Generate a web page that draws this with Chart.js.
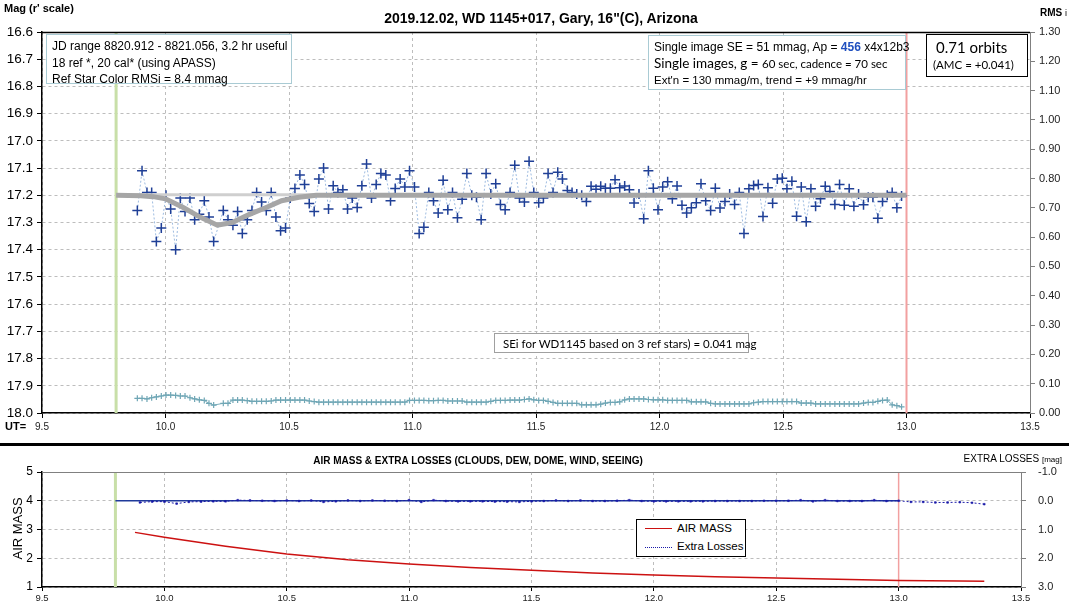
<!DOCTYPE html>
<html>
<head>
<meta charset="utf-8">
<script src="https://cdn.jsdelivr.net/npm/chart.js@4.4.1/dist/chart.umd.min.js"></script>
<style>
  body { margin: 0; background: #fff; width: 1069px; height: 611px; overflow: hidden; position: relative;
         font-family: "Liberation Sans", Arial, sans-serif; color: #000; }
  .abs { position: absolute; white-space: nowrap; line-height: 1; }
  #topWrap { position: absolute; left: 0; top: 0; width: 1069px; height: 445px; }
  #botWrap { position: absolute; left: 0; top: 445px; width: 1069px; height: 166px; }
  #sep { position: absolute; left: 0; top: 443px; width: 1069px; height: 3px; background: #000; }
  .box { position: absolute; background: #fff; box-sizing: border-box; }
  .cal { font-family: Lato, "Noto Sans", sans-serif; }
</style>
</head>
<body>
<div id="topWrap"><canvas id="magChart"></canvas></div>
<div id="botWrap"><canvas id="amChart"></canvas></div>
<div id="sep"></div>

<!-- top chart labels -->
<div class="abs" style="left:4px;top:3px;font-size:11px;font-weight:bold;">Mag (r' scale)</div>
<div class="abs" style="left:0;width:1082px;top:11px;text-align:center;font-size:14px;font-weight:bold;">2019.12.02, WD 1145+017, Gary, 16"(C), Arizona</div>
<div class="abs" style="left:1040px;top:8px;font-size:10px;font-weight:bold;">RMS <span style="font-weight:normal;font-size:9px;">i</span></div>
<div class="abs" style="left:5px;top:421px;font-size:11px;font-weight:bold;">UT=</div>

<div class="box" style="left:46px;top:34px;width:246px;height:50px;border:1px solid #a9cbd4;">
  <div class="abs" style="left:5px;top:5px;font-size:12px;">JD range 8820.912 - 8821.056, 3.2 hr useful</div>
  <div class="abs" style="left:5px;top:22px;font-size:12px;">18 ref *, 20 cal* (using APASS)</div>
  <div class="abs" style="left:5px;top:38px;font-size:12px;">Ref Star Color RMSi = 8.4 mmag</div>
</div>

<div class="box" style="left:648px;top:35px;width:258px;height:55px;border:1px solid #a9cbd4;">
  <div class="abs" style="left:5px;top:5px;font-size:12px;">Single image SE = 51 mmag, Ap = <b style="color:#1f4fbf;">456</b> x4x12b3</div>
  <div class="abs cal" style="left:5px;top:21px;font-size:13.5px;">Single images, g = <span style="font-size:11.5px;">60 sec, cadence = 70 sec</span></div>
  <div class="abs" style="left:5px;top:39px;font-size:11.5px;">Ext'n = 130 mmag/m, trend = +9 mmag/hr</div>
</div>

<div class="box" style="left:926px;top:34px;width:102px;height:43px;border:1px solid #000;">
  <div class="abs cal" style="left:9px;top:5px;font-size:15px;">0.71 orbits</div>
  <div class="abs cal" style="left:6px;top:24px;font-size:11.5px;">(AMC = +0.041)</div>
</div>

<div class="box" style="left:494px;top:333px;width:255px;height:20px;border:1px solid #a0a0a0;">
  <div class="abs cal" style="left:8px;top:4px;font-size:11.5px;">SEi for WD1145 based on 3 ref stars) = 0.041 mag</div>
</div>

<!-- bottom chart labels -->
<div class="abs" style="left:0;width:956px;top:456px;text-align:center;font-size:10px;font-weight:bold;">AIR MASS &amp; EXTRA LOSSES (CLOUDS, DEW, DOME, WIND, SEEING)</div>
<div class="abs" style="right:7px;top:454px;font-size:10px;">EXTRA LOSSES <span style="font-size:8px;">[mag]</span></div>
<div class="abs" style="left:-13px;top:523px;width:60px;text-align:center;font-size:13px;transform:rotate(-90deg);">AIR MASS</div>

<div class="box" style="left:636px;top:519px;width:110px;height:38px;border:1px solid #000;">
  <div class="abs" style="left:8px;top:8px;width:27px;border-top:1.5px solid #cc1111;"></div>
  <div class="abs" style="left:40px;top:3px;font-size:11.5px;">AIR MASS</div>
  <div class="abs" style="left:8px;top:27px;width:27px;border-top:1px dotted #1a1aa8;"></div>
  <div class="abs" style="left:40px;top:21px;font-size:11.5px;">Extra Losses</div>
</div>

<script>
/* ── top chart: WD 1145+017 photometry ───────────────────── */
const UT = [
  9.886, 9.905, 9.925, 9.944, 9.963, 9.983, 10.002, 10.021, 10.041, 10.060,
  10.079, 10.099, 10.118, 10.137, 10.157, 10.176, 10.195,
  10.234, 10.253, 10.273, 10.292, 10.311, 10.331, 10.350, 10.369, 10.389, 10.408,
  10.428, 10.447, 10.466, 10.486, 10.505, 10.524, 10.544, 10.563, 10.582, 10.602,
  10.621, 10.640, 10.660, 10.679, 10.698, 10.718, 10.737, 10.756, 10.776, 10.795,
  10.814, 10.834, 10.853, 10.872, 10.892, 10.911, 10.930, 10.950, 10.969, 10.988,
  11.008, 11.027, 11.046, 11.066, 11.085, 11.104, 11.124, 11.143, 11.162, 11.182,
  11.201, 11.220, 11.240, 11.259, 11.278, 11.298, 11.317, 11.337, 11.356, 11.375,
  11.395, 11.414, 11.433, 11.453, 11.472, 11.491, 11.511, 11.530, 11.549, 11.569,
  11.588, 11.607, 11.627, 11.646, 11.665, 11.685, 11.704, 11.723, 11.743, 11.762,
  11.781, 11.801, 11.820, 11.839, 11.859, 11.878, 11.897, 11.917, 11.936, 11.955,
  11.975, 11.994, 12.013, 12.033, 12.052, 12.071, 12.091, 12.110, 12.129, 12.149,
  12.168, 12.187, 12.207, 12.226, 12.245, 12.265, 12.284, 12.304, 12.323, 12.342,
  12.362, 12.381, 12.400, 12.419, 12.439, 12.458, 12.477, 12.497, 12.516, 12.536,
  12.555, 12.574, 12.594, 12.613, 12.632, 12.652, 12.671, 12.690, 12.710, 12.729,
  12.748, 12.768, 12.787, 12.806, 12.826, 12.845, 12.864, 12.884, 12.903, 12.922,
  12.942, 12.961, 12.980
];
const MAG = [
  17.256, 17.110, 17.190, 17.190, 17.370, 17.320, 17.200, 17.250, 17.400, 17.210,
  17.260, 17.210, 17.290, 17.270, 17.220, 17.280, 17.370,
  17.256, 17.290, 17.310, 17.260, 17.340, 17.290, 17.256, 17.190, 17.225, 17.256,
  17.190, 17.280, 17.330, 17.320, 17.210, 17.175, 17.125, 17.160, 17.230, 17.260,
  17.140, 17.100, 17.250, 17.165, 17.190, 17.180, 17.250, 17.210, 17.245, 17.165,
  17.085, 17.210, 17.160, 17.120, 17.125, 17.220, 17.175, 17.140, 17.170, 17.110,
  17.170, 17.340, 17.317, 17.190, 17.220, 17.265, 17.145, 17.253, 17.190, 17.283,
  17.215, 17.120, 17.200, 17.207, 17.290, 17.120, 17.195, 17.158, 17.234, 17.253,
  17.190, 17.090, 17.210, 17.225, 17.075, 17.190, 17.227, 17.210, 17.120, 17.190,
  17.115, 17.140, 17.182, 17.190, 17.195, 17.200, 17.223, 17.167, 17.178, 17.167,
  17.174, 17.174, 17.143, 17.172, 17.166, 17.180, 17.228, 17.195, 17.286, 17.110,
  17.174, 17.253, 17.170, 17.150, 17.213, 17.166, 17.237, 17.265, 17.246, 17.227,
  17.158, 17.220, 17.256, 17.174, 17.247, 17.223, 17.195, 17.234, 17.190, 17.340,
  17.176, 17.164, 17.160, 17.278, 17.172, 17.229, 17.140, 17.137, 17.176, 17.148,
  17.277, 17.170, 17.297, 17.176, 17.240, 17.213, 17.167, 17.186, 17.234, 17.160,
  17.237, 17.176, 17.240, 17.195, 17.235, 17.207, 17.207, 17.284, 17.223, 17.200,
  17.190, 17.246, 17.203
];
// per-image RMS (right axis)
const RMS = [
  0.050, 0.050, 0.048, 0.052, 0.055, 0.058, 0.061, 0.061, 0.060, 0.058,
  0.058, 0.052, 0.048, 0.045, 0.043, 0.033, 0.027,
  0.033, 0.033, 0.044, 0.044, 0.044, 0.042, 0.040, 0.040, 0.040, 0.040,
  0.041, 0.044, 0.044, 0.044, 0.044, 0.044, 0.044, 0.044, 0.041, 0.039,
  0.037, 0.037, 0.037, 0.037, 0.037, 0.037, 0.037, 0.037, 0.037, 0.037,
  0.037, 0.037, 0.037, 0.037, 0.037, 0.037, 0.037, 0.037, 0.037, 0.043,
  0.043, 0.043, 0.043, 0.042, 0.042, 0.043, 0.043, 0.041, 0.041, 0.041,
  0.041, 0.037, 0.037, 0.037, 0.037, 0.037, 0.040, 0.043, 0.043, 0.043,
  0.044, 0.044, 0.044, 0.046, 0.048, 0.045, 0.043, 0.043, 0.040, 0.036,
  0.033, 0.033, 0.033, 0.033, 0.033, 0.028, 0.028, 0.028, 0.028, 0.030,
  0.034, 0.036, 0.036, 0.038, 0.045, 0.048, 0.048, 0.048, 0.048, 0.046,
  0.045, 0.045, 0.045, 0.043, 0.043, 0.043, 0.043, 0.043, 0.038, 0.038,
  0.038, 0.038, 0.033, 0.031, 0.031, 0.031, 0.031, 0.031, 0.031, 0.031,
  0.031, 0.035, 0.037, 0.039, 0.039, 0.039, 0.039, 0.039, 0.039, 0.039,
  0.039, 0.034, 0.034, 0.034, 0.031, 0.031, 0.031, 0.031, 0.031, 0.031,
  0.031, 0.031, 0.031, 0.031, 0.034, 0.036, 0.036, 0.040, 0.043, 0.044,
  0.028, 0.025, 0.021
];
// transit model (thick grey) and flat baseline over the dip
const MODEL_UT  = [9.80, 9.90, 9.95, 10.00, 10.07, 10.14, 10.21, 10.27, 10.34, 10.41, 10.47, 10.54, 10.61, 13.00];
const MODEL_MAG = [17.200, 17.202, 17.205, 17.213, 17.244, 17.280, 17.310, 17.300, 17.270, 17.244, 17.220, 17.207, 17.200, 17.200];
const BASE_UT   = [9.80, 10.62];
const BASE_MAG  = [17.198, 17.198];
const START_UT  = 9.80;
const END_UT    = 13.00;

/* ── bottom chart: air mass & extra losses ───────────────── */
const AM_UT   = [9.88, 10.00, 10.25, 10.50, 10.75, 11.00, 11.25, 11.50, 11.75, 12.00, 12.25, 12.50, 12.75, 13.00, 13.25, 13.35];
const AIRMASS = [2.90, 2.73, 2.42, 2.15, 1.95, 1.80, 1.68, 1.58, 1.49, 1.42, 1.36, 1.31, 1.27, 1.23, 1.21, 1.20];
const EL_UT = [
  9.90, 9.95, 10.00, 10.05, 10.10, 10.15, 10.20, 10.25, 10.30, 10.35,
  10.40, 10.45, 10.50, 10.55, 10.60, 10.65, 10.70, 10.75, 10.80, 10.85,
  10.90, 10.95, 11.00, 11.05, 11.10, 11.15, 11.20, 11.25, 11.30, 11.35,
  11.40, 11.45, 11.50, 11.55, 11.60, 11.65, 11.70, 11.75, 11.80, 11.85,
  11.90, 11.95, 12.00, 12.05, 12.10, 12.15, 12.20, 12.25, 12.30, 12.35,
  12.40, 12.45, 12.50, 12.55, 12.60, 12.65, 12.70, 12.75, 12.80, 12.85,
  12.90, 12.95, 13.00, 13.05, 13.10, 13.15, 13.20, 13.25, 13.30, 13.35
];
const EXTRA = [
  0.06, 0.03, 0.03, 0.10, 0.04, 0.03, 0.02, 0.02, -0.02, -0.01,
  0.00, 0.01, -0.01, 0.01, -0.01, 0.04, 0.02, -0.01, 0.01, -0.01,
  0.00, 0.01, -0.02, 0.04, -0.02, 0.01, 0.02, 0.02, 0.02, 0.03,
  0.03, 0.04, 0.02, 0.01, -0.01, 0.01, -0.01, 0.01, 0.01, 0.00,
  -0.02, 0.01, 0.02, 0.02, 0.02, 0.02, 0.02, 0.01, 0.01, 0.01,
  0.01, 0.00, 0.00, 0.00, -0.02, 0.02, -0.02, 0.01, 0.01, 0.01,
  -0.02, 0.01, 0.00, 0.04, 0.04, 0.06, 0.06, 0.05, 0.07, 0.12
];
const REF_UT   = [9.80, 13.00];
const REF_LOSS = [0, 0];

/* ── helpers ─────────────────────────────────────────────── */
const FONT = '"Liberation Sans", Arial, sans-serif';
const pts = (xs, ys) => xs.map((x, i) => ({ x, y: ys[i] }));
const vline = (x, y0, y1) => [{ x, y: y0 }, { x, y: y1 }];

const frameTop = {
  id: 'frameTop',
  afterDatasetsDraw(chart, args, opts) {
    const { ctx, chartArea: a } = chart;
    ctx.save();
    ctx.strokeStyle = opts.color;
    ctx.lineWidth = opts.width;
    ctx.beginPath();
    ctx.moveTo(a.left, a.top + 0.5);
    ctx.lineTo(a.right, a.top + 0.5);
    ctx.stroke();
    ctx.restore();
  }
};

const lineDs = (data, color, width, extra) => Object.assign({
  data, borderColor: color, backgroundColor: color, borderWidth: width,
  pointRadius: 0, showLine: true, tension: 0
}, extra || {});

/* ── magnitude chart ─────────────────────────────────────── */
new Chart(document.getElementById('magChart'), {
  type: 'scatter',
  data: {
    datasets: [
      lineDs(pts(MODEL_UT, MODEL_MAG), '#a6a6a6', 5),
      lineDs(pts(BASE_UT, BASE_MAG), '#cfcfcf', 3),
      lineDs(pts(UT, MAG), '#9dbbe0', 1, {
        borderDash: [2, 2], pointStyle: 'cross', pointRadius: 5,
        pointBorderColor: '#1f3f96', pointBorderWidth: 1.5
      }),
      lineDs(pts(UT, RMS), '#7aaebb', 1, {
        yAxisID: 'y2', pointStyle: 'cross', pointRadius: 3,
        pointBorderColor: '#6fa6b5', pointBorderWidth: 1.2
      }),
      lineDs(vline(START_UT, 16.6, 18.0), '#c8dfa8', 3),
      lineDs(vline(END_UT, 16.6, 18.0), '#f2a0a0', 2)
    ]
  },
  options: {
    responsive: true, maintainAspectRatio: false, animation: false,
    layout: { padding: { top: 32, left: 0, right: 0, bottom: 0 } },
    plugins: { legend: { display: false }, tooltip: { enabled: false }, frameTop: { color: '#000', width: 1.5 } },
    scales: {
      x: {
        type: 'linear', min: 9.5, max: 13.5, afterFit: s => { s.height = 32; },
        ticks: { stepSize: 0.5, callback: v => v.toFixed(1), font: { family: FONT, size: 10 }, color: '#222', padding: 3, maxRotation: 0, autoSkip: false },
        grid: { color: '#bdbdbd', tickColor: '#000', tickLength: 5, tickBorderDash: [] },
        border: { color: '#000', width: 1.5, dash: [3, 3] }
      },
      y: {
        position: 'left', reverse: true, min: 16.6, max: 18.0, afterFit: s => { s.width = 42; },
        ticks: { stepSize: 0.1, callback: v => v.toFixed(1), font: { family: FONT, size: 13.5 }, color: '#000', padding: 4, autoSkip: false },
        grid: { color: '#bdbdbd', tickColor: '#000', tickLength: 5, tickBorderDash: [] },
        border: { color: '#000', width: 1.5, dash: [3, 3] }
      },
      y2: {
        position: 'right', min: 0, max: 1.3, afterFit: s => { s.width = 39; },
        ticks: { stepSize: 0.1, callback: v => v.toFixed(2), font: { family: FONT, size: 11 }, color: '#222', padding: 4, autoSkip: false },
        grid: { drawOnChartArea: false, tickColor: '#808080', tickLength: 5 },
        border: { color: '#808080', width: 1 }
      }
    }
  },
  plugins: [frameTop]
});

/* ── air mass chart ──────────────────────────────────────── */
new Chart(document.getElementById('amChart'), {
  type: 'scatter',
  data: {
    datasets: [
      lineDs(pts(EL_UT, EXTRA), '#1a1aa8', 1, {
        yAxisID: 'y2', borderDash: [2, 2], pointStyle: 'rect', pointRadius: 1.2,
        pointBorderColor: '#1a1aa8', pointBorderWidth: 0.5
      }),
      lineDs(pts(REF_UT, REF_LOSS), '#1f3a9a', 1.5, { yAxisID: 'y2' }),
      lineDs(pts(AM_UT, AIRMASS), '#cc1111', 1.5),
      lineDs(vline(START_UT, 1, 5), '#c8dfa8', 3),
      lineDs(vline(END_UT, 1, 5), '#f2a0a0', 1.5)
    ]
  },
  options: {
    responsive: true, maintainAspectRatio: false, animation: false,
    layout: { padding: { top: 27, left: 0, right: 0, bottom: 0 } },
    plugins: { legend: { display: false }, tooltip: { enabled: false }, frameTop: { color: '#808080', width: 1 } },
    scales: {
      x: {
        type: 'linear', min: 9.5, max: 13.5, afterFit: s => { s.height = 24; },
        ticks: { stepSize: 0.5, callback: v => v.toFixed(1), font: { family: FONT, size: 9.5 }, color: '#222', padding: 2, maxRotation: 0, autoSkip: false },
        grid: { color: '#bdbdbd', tickColor: '#000', tickLength: 4, tickBorderDash: [] },
        border: { color: '#000', width: 1.5, dash: [3, 3] }
      },
      y: {
        position: 'left', min: 1, max: 5, afterFit: s => { s.width = 42; },
        ticks: { stepSize: 1, font: { family: FONT, size: 12 }, color: '#000', padding: 4, autoSkip: false },
        grid: { color: '#bdbdbd', tickColor: '#000', tickLength: 5, tickBorderDash: [] },
        border: { color: '#000', width: 1.5, dash: [3, 3] }
      },
      y2: {
        position: 'right', reverse: true, min: -1, max: 3, afterFit: s => { s.width = 48; },
        ticks: { stepSize: 1, callback: v => v.toFixed(1), font: { family: FONT, size: 11 }, color: '#222', padding: 12, autoSkip: false },
        grid: { drawOnChartArea: false, tickColor: '#808080', tickLength: 5 },
        border: { color: '#808080', width: 1 }
      }
    }
  },
  plugins: [frameTop]
});
</script>
</body>
</html>
